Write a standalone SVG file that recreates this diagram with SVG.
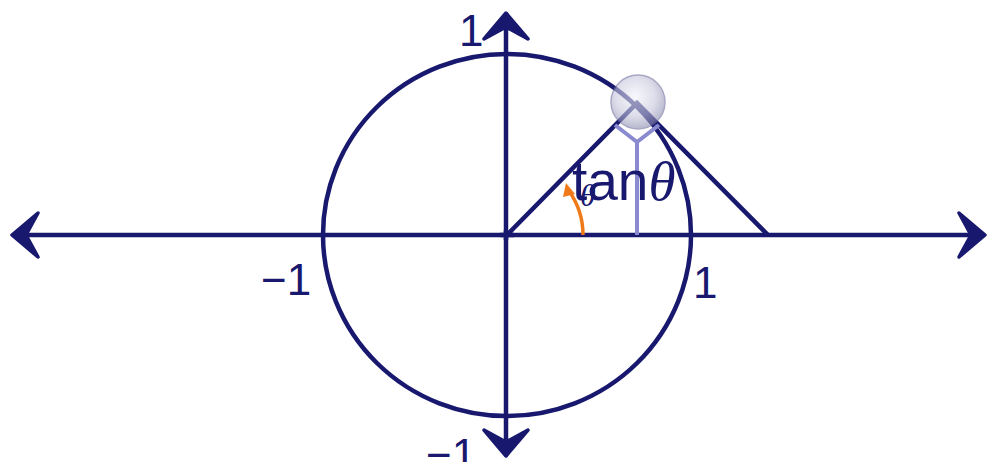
<svg xmlns="http://www.w3.org/2000/svg" width="992" height="462" viewBox="0 0 992 462">
  <style>
    .ax { stroke: #18186e; stroke-width: 4.5; fill: none; }
    .lbl { font-family: "Liberation Sans", Arial, sans-serif; font-size: 44px; fill: #18186e; }
    .light { stroke: #8a8ad0; stroke-width: 4; fill: none; }
  </style>
  <defs>
    <marker id="arr" markerUnits="userSpaceOnUse" markerWidth="40" markerHeight="60" viewBox="-30 -30 40 60" refX="0" refY="0" orient="auto">
      <path d="M -25 -22 L 1 0 L -25 22 L -13 0 Z" fill="#18186e" stroke="#18186e" stroke-width="3.5" stroke-linejoin="round"/>
    </marker>
    <radialGradient id="ball" cx="0.45" cy="0.4" r="0.6">
      <stop offset="0" stop-color="#f4f4fb"/>
      <stop offset="0.6" stop-color="#c8c8de"/>
      <stop offset="1" stop-color="#8a8aae"/>
    </radialGradient>
  </defs>

  <g id="connectors">
    <g id="axes">
      <line class="ax" x1="500" y1="235" x2="984" y2="235" marker-end="url(#arr)"/>
      <line class="ax" x1="514" y1="235" x2="13" y2="235" marker-end="url(#arr)"/>
      <line class="ax" x1="506" y1="240" x2="506" y2="14" marker-end="url(#arr)"/>
      <line class="ax" x1="506" y1="230" x2="506" y2="455" marker-end="url(#arr)"/>
    </g>
    <ellipse id="unit-circle" class="ax" cx="507" cy="235" rx="184" ry="181"/>
    <g id="triangle">
      <polyline class="ax" points="507,235 637,103 768,235" stroke-linejoin="miter"/>
    </g>
    <g id="tan-marker">
      <polyline class="light" points="615,125 637,142 659,125"/>
      <line class="light" x1="637" y1="142" x2="637" y2="235"/>
    </g>
    <g id="angle-arc">
      <path d="M 583 235 A 76 76 0 0 0 569 191" fill="none" stroke="#f07a1a" stroke-width="3.5"/>
      <path d="M 566 183 L 575 194 L 563 197 Z" fill="#f07a1a"/>
    </g>
  </g>

  <g id="handle">
    <circle cx="638" cy="102" r="27" fill="url(#ball)" opacity="0.6" stroke="#7070a0" stroke-width="1.5"/>
  </g>

  <g id="labels">
    <text class="lbl" x="459" y="46">1</text>
    <text class="lbl" x="261" y="295">−1</text>
    <text class="lbl" x="693" y="298">1</text>
    <text class="lbl" x="426" y="470">−1</text>
    <text x="580" y="206" font-family="'Liberation Serif', serif" font-style="italic" font-size="32" fill="#18186e" stroke="#ffffff" stroke-width="3" paint-order="stroke">θ</text>
    <text x="572" y="200" font-family="'Liberation Sans', Arial, sans-serif" font-size="55" fill="#18186e">tan<tspan font-family="'Liberation Serif', serif" font-style="italic">θ</tspan></text>
  </g>
</svg>
